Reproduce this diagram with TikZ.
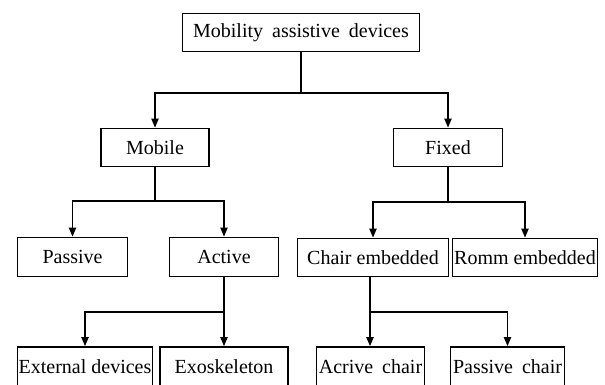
\documentclass[tikz,border=0pt]{standalone}
\usepackage{fontspec}
\setmainfont{Liberation Serif}
\usetikzlibrary{arrows.meta}
\begin{document}
\begin{tikzpicture}[x=1pt,y=-1pt,
  box/.style={draw,line width=1.6pt,inner sep=0pt,font=\fontsize{20}{24}\selectfont},
  conn/.style={line width=1.8pt},
  arr/.style={conn,-{Triangle[length=9pt,width=7pt]}}]
\useasboundingbox (0,0) rectangle (605,384);
\clip (0,0) rectangle (605,384);
% nodes
\node[box,minimum width=237pt,minimum height=38pt] (top) at (301,32.5) {Mobility\hspace{4pt} assistive\hspace{4pt} devices};
\node[box,minimum width=108pt,minimum height=38pt] (mobile) at (155,147.5) {Mobile};
\node[box,minimum width=109pt,minimum height=38pt] (fixed) at (448,147.5) {Fixed};
\node[box,minimum width=110pt,minimum height=39pt] (passive) at (72.5,257) {Passive};
\node[box,minimum width=109pt,minimum height=39pt] (active) at (224,257) {Active};
\node[box,minimum width=151pt,minimum height=38pt] (chair) at (373,257.5) {Chair embedded};
\node[box,minimum width=145pt,minimum height=38pt] (room) at (525,257.5) {Romm embedded};
\node[box,minimum width=135pt,minimum height=40pt] (ext) at (85,367) {External devices};
\node[box,minimum width=128pt,minimum height=40pt] (exo) at (224,367) {Exoskeleton};
\node[box,minimum width=108pt,minimum height=40pt] (acr) at (370.5,367) {Acrive\hspace{4pt} chair};
\node[box,minimum width=114pt,minimum height=40pt] (pch) at (507.5,367) {Passive\hspace{4pt} chair};
% connectors
\coordinate (j0) at ([yshift=-41pt]top.south);
\draw[conn] (top.south) -- (j0);
\draw[arr] (j0) -| (mobile.north);
\draw[arr] (j0) -| (fixed.north);
\coordinate (j1) at ([yshift=-34pt]mobile.south);
\draw[conn] (mobile.south) -- (j1);
\draw[arr] (j1) -| (passive.north);
\draw[arr] (j1) -| (active.north);
\coordinate (j2) at ([yshift=-35pt]fixed.south);
\draw[conn] (fixed.south) -- (j2);
\draw[arr] (j2) -| (chair.north);
\draw[arr] (j2) -| (room.north);
\coordinate (j3) at ([yshift=-35pt]active.south);
\draw[conn] (active.south) -- (j3);
\draw[arr] (j3) -| (ext.north);
\draw[arr] (j3) -- (exo.north);
\coordinate (j4) at ([xshift=-3pt,yshift=-35pt]chair.south);
\draw[conn] ([xshift=-3pt]chair.south) -- (j4);
\draw[arr] (j4) -- (j4 |- acr.north);
\draw[arr] (j4) -| (pch.north);
\end{tikzpicture}
\end{document}
